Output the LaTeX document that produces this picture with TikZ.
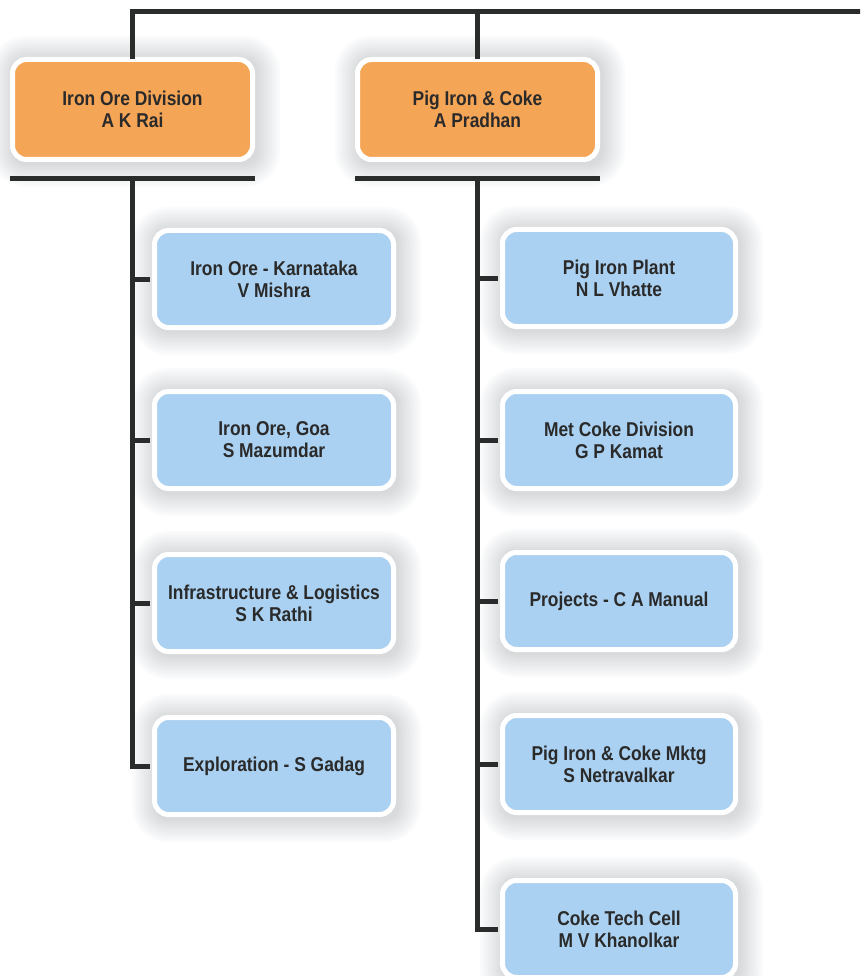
\documentclass[tikz,border=0pt]{standalone}
\usepackage{fontspec}
\setmainfont{Liberation Sans}[FakeStretch=0.87]
\usetikzlibrary{calc}
\pgfdeclarelayer{background}
\pgfsetlayers{background,main}
\definecolor{boxorange}{HTML}{F5A556}
\definecolor{boxblue}{HTML}{AAD1F1}
\definecolor{linedark}{HTML}{2A2B2B}
\definecolor{txtdark}{HTML}{2A2A2A}
\definecolor{shadowgray}{HTML}{5A6470}
\tikzset{
  basebox/.style={draw=white, line width=5pt, rounded corners=14pt,
    align=center, text=txtdark,
    font=\fontsize{20}{22}\selectfont\bfseries, inner sep=0pt},
  headbox/.style={basebox, fill=boxorange, minimum width=240pt, minimum height=100pt},
  leftbox/.style={basebox, fill=boxblue, minimum width=239pt, minimum height=97pt},
  rightbox/.style={basebox, fill=boxblue, minimum width=233pt, minimum height=97pt},
  conn/.style={draw=linedark, line width=5pt},
  softshadow/.style={fill=shadowgray, fill opacity=0.018}
}
\begin{document}
\begin{tikzpicture}[x=1pt, y=-1pt]
\useasboundingbox (0,0) rectangle (860,976);
\clip (0,0) rectangle (860,976);

% head boxes
\node[headbox] (io) at (132.5,109.5) {Iron Ore Division\\A K Rai};
\node[headbox] (pi) at (477.5,109.5) {Pig Iron \& Coke\\A Pradhan};

% left children
\node[leftbox] (l1) at (274,279) {Iron Ore - Karnataka\\V Mishra};
\node[leftbox] (l2) at (274,440) {Iron Ore, Goa\\S Mazumdar};
\node[leftbox] (l3) at (274,603) {Infrastructure \& Logistics\\S K Rathi};
\node[leftbox] (l4) at (274,766) {Exploration - S Gadag};

% right children
\node[rightbox] (r1) at (619,278) {Pig Iron Plant\\N L Vhatte};
\node[rightbox] (r2) at (619,440) {Met Coke Division\\G P Kamat};
\node[rightbox] (r3) at (619,601) {Projects - C A Manual};
\node[rightbox] (r4) at (619,764) {Pig Iron \& Coke Mktg\\S Netravalkar};
\node[rightbox] (r5) at (619,929) {Coke Tech Cell\\M V Khanolkar};

% soft shadows
\begin{pgfonlayer}{background}
\fill[white] (0,0) rectangle (860,976);
\foreach \n in {io,pi,l1,l2,l3,l4,r1,r2,r3,r4,r5}{
  \foreach \k in {0,2,...,22}{
    \fill[softshadow, rounded corners={14pt+\k pt}]
      ($(\n.south west)+(-\k+2,\k+3)$) rectangle ($(\n.north east)+(\k+3,-\k+1)$);
  }
}
\end{pgfonlayer}

% top line
\coordinate (topleft) at (io.north |- 0,12);
\coordinate (topright) at (862,12);
\coordinate (topmid) at (pi.north |- 0,12);
\draw[conn] ([yshift=-2.5pt]io.north) -- (topleft) -- (topright);
\draw[conn] ([yshift=-2.5pt]pi.north) -- (topmid);

% bars under head boxes
\coordinate (iobl) at ([yshift=-16.5pt]io.south west);
\coordinate (iobr) at ([yshift=-16.5pt]io.south east);
\coordinate (iobm) at ([yshift=-16.5pt]io.south);
\coordinate (pibl) at ([yshift=-16.5pt]pi.south west);
\coordinate (pibr) at ([yshift=-16.5pt]pi.south east);
\coordinate (pibm) at ([yshift=-16.5pt]pi.south);
\draw[conn] (iobl) -- (iobr);
\draw[conn] (pibl) -- (pibr);

% spines
\draw[conn] (iobm) |- ([xshift=-2.5pt]l4.west);
\draw[conn] (pibm) |- ([xshift=-2.5pt]r5.west);

% ticks
\foreach \n in {l1,l2,l3}{
  \draw[conn] (\n.west -| iobm) -- ([xshift=-2.5pt]\n.west);
}
\foreach \n in {r1,r2,r3,r4}{
  \draw[conn] (\n.west -| pibm) -- ([xshift=-2.5pt]\n.west);
}
\end{tikzpicture}
\end{document}
